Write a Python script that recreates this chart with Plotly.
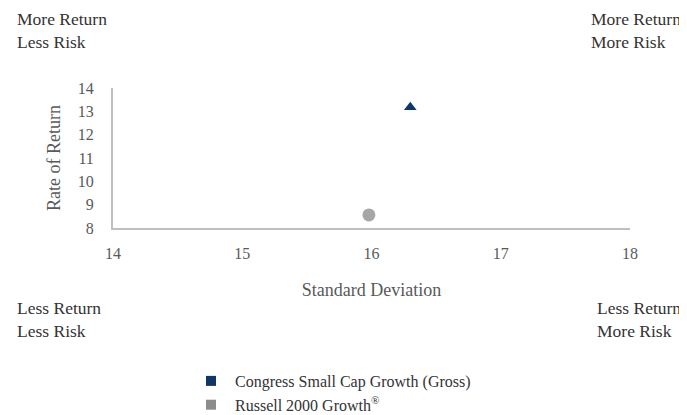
import plotly.graph_objects as go

series_names = ["Congress Small Cap Growth (Gross)", "Russell 2000 Growth<sup>®</sup>"]
std_dev = [16.30, 15.98]
returns = [13.17, 8.56]
symbols = ["triangle-up", "circle"]
colors = ["#0f3764", "#a6a6a6"]
legend_colors = ["#0f3764", "#8c8c8c"]
x_ticks = [14, 15, 16, 17, 18]
y_ticks = [8, 9, 10, 11, 12, 13, 14]

FONT = "Liberation Serif"
# page body has 8px default margin -> figure sized to fit the window
W, H = 679, 407
L, R, T, B = 105, 57, 80, 187
PW, PH = W - L - R, H - T - B


def px(xf):
    return (xf - L) / PW


def py(yf):
    return (T + PH - yf) / PH


fig = go.Figure()
for i in range(2):
    fig.add_trace(go.Scatter(x=[std_dev[i]], y=[returns[i]], mode="markers",
                             marker=dict(symbol=symbols[i], color=colors[i], size=[11, 13][i]),
                             showlegend=False, cliponaxis=False))
for i in range(2):
    fig.add_trace(go.Scatter(x=[None], y=[None], mode="markers", name=series_names[i],
                             marker=dict(symbol="square", color=legend_colors[i], size=10)))

fig.update_layout(
    width=W, height=H,
    margin=dict(l=L, r=R, t=T, b=B, autoexpand=False),
    plot_bgcolor="white", paper_bgcolor="white",
    font=dict(family=FONT, size=16, color="#404040"),
    xaxis=dict(range=[14, 18], tickvals=x_ticks, showgrid=False, zeroline=False,
               showline=True, linecolor="#bfbfbf", linewidth=2, ticks="",
               ticklabelstandoff=10, tickfont=dict(size=16, color="#595959"),
               title=dict(text="Standard Deviation", standoff=22,
                          font=dict(size=18, color="#595959"))),
    yaxis=dict(range=[8, 14], tickvals=y_ticks, showgrid=False, zeroline=False,
               showline=True, linecolor="#bfbfbf", linewidth=2, ticks="",
               ticklabelstandoff=14, tickfont=dict(size=16, color="#595959"),
               title=dict(text="Rate of Return", standoff=12,
                          font=dict(size=18, color="#595959"))),
    legend=dict(x=px(179), y=py(356), xanchor="left", yanchor="top", itemwidth=38,
                font=dict(size=16, color="#333333"), tracegroupgap=0),
)

corner = dict(font=dict(family=FONT, size=17.5, color="#333333"), showarrow=False,
              xref="paper", yref="paper", align="left", xanchor="left", yanchor="middle")
fig.add_annotation(text="More Return<br>Less Risk", x=px(7), y=py(22.5), **corner)
fig.add_annotation(text="More Return<br>More Risk", x=px(581), y=py(22.5), **corner)
fig.add_annotation(text="Less Return<br>Less Risk", x=px(7), y=py(311), **corner)
fig.add_annotation(text="Less Return<br>More Risk", x=px(587), y=py(311), **corner)

fig.write_html("out.html")
